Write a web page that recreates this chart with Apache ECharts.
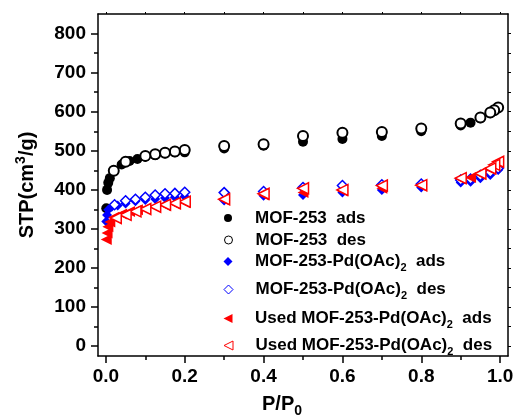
<!DOCTYPE html>
<html>
<head>
<meta charset="utf-8">
<script src="https://cdn.jsdelivr.net/npm/echarts@6/dist/echarts.min.js"></script>
<style>
html, body { margin: 0; padding: 0; background: #fff; }
#chart { width: 517px; height: 415px; }
</style>
</head>
<body>
<div id="chart"></div>
<script>
// P/P0 , STP values
var mofAds = [[0.001,353],[0.003,400],[0.006,418],[0.01,430],[0.02,448],[0.04,465],[0.06,474],[0.08,479],[0.1,485],[0.125,489],[0.15,493],[0.175,496],[0.2,496],[0.3,506],[0.4,513],[0.5,523],[0.6,530],[0.7,538],[0.8,550],[0.9,565],[0.925,572],[0.95,583],[0.975,596],[0.99,608]];
var mofDes = [[0.995,611],[0.985,604],[0.975,598],[0.95,585],[0.9,570],[0.8,557],[0.7,548],[0.6,546],[0.5,538],[0.4,517],[0.3,512],[0.2,502],[0.175,498],[0.15,495],[0.125,491],[0.1,487],[0.05,472],[0.02,449]];
var pdAds = [[0.001,319],[0.003,336],[0.006,349],[0.015,357],[0.03,360],[0.05,365],[0.075,371],[0.1,374],[0.125,377],[0.15,379],[0.175,381],[0.2,383],[0.3,373],[0.4,385],[0.5,387],[0.6,393],[0.7,400],[0.8,406],[0.9,419],[0.925,421],[0.95,430],[0.975,438],[0.995,451]];
var pdDes = [[0.995,455],[0.975,445],[0.95,437],[0.925,428],[0.9,425],[0.8,415],[0.7,413],[0.6,411],[0.5,406],[0.4,396],[0.3,393],[0.2,394],[0.175,391],[0.15,390],[0.125,387],[0.1,381],[0.075,376],[0.05,372],[0.022,362]];
var usedAds = [[0.001,273],[0.003,290],[0.005,306],[0.01,318],[0.02,330],[0.04,338],[0.06,345],[0.08,349],[0.1,352],[0.125,356],[0.15,360],[0.175,364],[0.2,367],[0.3,374],[0.4,387],[0.5,393],[0.6,397],[0.7,404],[0.8,410],[0.9,428],[0.925,432],[0.95,440],[0.975,452],[0.995,470]];
var usedDes = [[0.995,472],[0.985,464],[0.975,455],[0.95,442],[0.9,430],[0.8,412],[0.7,411],[0.6,400],[0.5,404],[0.4,390],[0.3,376],[0.2,370],[0.175,366],[0.15,362],[0.125,357],[0.1,351],[0.075,345],[0.05,336],[0.025,328]];

var seriesNames = ['MOF-253  ads', 'MOF-253  des', 'MOF-253-Pd(OAc)2  ads', 'MOF-253-Pd(OAc)2  des', 'Used MOF-253-Pd(OAc)2  ads', 'Used MOF-253-Pd(OAc)2  des'];
var xMajor = [0, 0.2, 0.4, 0.6, 0.8, 1.0];
var xMinor = [0.1, 0.3, 0.5, 0.7, 0.9];
var xAll = [0, 0.1, 0.2, 0.3, 0.4, 0.5, 0.6, 0.7, 0.8, 0.9, 1.0];
var yMajor = [0, 100, 200, 300, 400, 500, 600, 700, 800];
var yMinor = [50, 150, 250, 350, 450, 550, 650, 750];
var yAll = [0, 50, 100, 150, 200, 250, 300, 350, 400, 450, 500, 550, 600, 650, 700, 750, 800];

var FONT = "'Liberation Sans', Arial, Helvetica, sans-serif";
var LEFT_TRI = 'path://M0,5L10,0L10,10Z';

var symbols = [
    {symbol: 'circle', size: 10, legendSize: 8, style: {color: '#000', opacity: 1}, legendStyle: {color: '#000'}},
    {symbol: 'circle', size: 10, legendSize: 8, style: {color: '#fff', borderColor: '#000', borderWidth: 2, opacity: 1}, legendStyle: {color: '#fff', borderColor: '#000', borderWidth: 1}},
    {symbol: 'diamond', size: 10, legendSize: 9, style: {color: '#0000ff', opacity: 1}, legendStyle: {color: '#0000ff'}},
    {symbol: 'diamond', size: 10, legendSize: 9, style: {color: '#fff', borderColor: '#0000ff', borderWidth: 1.5, opacity: 1}, legendStyle: {color: '#fff', borderColor: '#0000ff', borderWidth: 1}},
    {symbol: LEFT_TRI, size: 11, legendSize: 9, style: {color: '#ff0000', opacity: 1}, legendStyle: {color: '#ff0000'}},
    {symbol: LEFT_TRI, size: 11, legendSize: 9, style: {color: '#fff', borderColor: '#ff0000', borderWidth: 1.5, opacity: 1}, legendStyle: {color: '#fff', borderColor: '#ff0000', borderWidth: 1}}
];
var seriesData = [mofAds, mofDes, pdAds, pdDes, usedAds, usedDes];
var legendY = [217, 239, 260, 288, 317, 344];

var series = [];
var legends = [];
for (var i = 0; i < seriesNames.length; i++) {
    series.push({
        name: seriesNames[i],
        type: 'scatter',
        xAxisIndex: 0,
        yAxisIndex: 0,
        symbol: symbols[i].symbol,
        symbolSize: symbols[i].size,
        itemStyle: symbols[i].style,
        emphasis: {disabled: true},
        data: seriesData[i],
        animation: false
    });
    var hasSub = seriesNames[i].indexOf('(OAc)2') >= 0;
    var ls = symbols[i].legendSize;
    legends.push({
        left: 228 - ls / 2,
        top: legendY[i] - (hasSub ? 7 : 7.5),
        padding: 0,
        itemWidth: ls,
        itemHeight: ls,
        selectedMode: false,
        data: [{name: seriesNames[i], icon: symbols[i].symbol, itemStyle: symbols[i].legendStyle}],
        formatter: function (name) {
            return name.replace('(OAc)2', '(OAc){sub|2}');
        },
        textStyle: {
            fontFamily: FONT,
            fontSize: 17,
            fontWeight: 'bold',
            color: '#000',
            padding: [0, 0, 0, 22 - ls / 2],
            rich: {
                sub: {fontFamily: FONT, fontSize: 11, fontWeight: 'bold', color: '#000', padding: [13, 0, 0, 0]}
            }
        }
    });
}

var axisLine = {show: true, onZero: false, lineStyle: {color: '#000', width: 1.5}};
var noLine = {show: false, onZero: false};

var option = {
    backgroundColor: '#fff',
    animation: false,
    grid: {left: 98, right: 9, top: 14, bottom: 59, containLabel: false, outerBoundsMode: 'none'},
    legend: legends,
    xAxis: [
        {
            type: 'value', position: 'bottom', min: -0.02, max: 1.02,
            axisLine: axisLine,
            axisTick: {show: true, inside: false, length: 7, customValues: xMajor, lineStyle: {color: '#000', width: 1.5}},
            axisLabel: {show: true, customValues: xMajor, margin: 11, fontFamily: FONT, fontSize: 19, fontWeight: 'bold', color: '#000',
                formatter: function (v) { return v.toFixed(1); }},
            splitLine: {show: false},
            name: 'P/P{sub|0}',
            nameLocation: 'middle',
            nameGap: 34,
            nameTextStyle: {fontFamily: FONT, fontSize: 20, fontWeight: 'bold', color: '#000', padding: [0, 42, 0, 0],
                rich: {sub: {fontFamily: FONT, fontSize: 14, fontWeight: 'bold', color: '#000', padding: [14, 0, 0, 0]}}}
        },
        {
            type: 'value', position: 'bottom', min: -0.02, max: 1.02,
            axisLine: noLine,
            axisTick: {show: true, inside: false, length: 4, customValues: xMinor, lineStyle: {color: '#000', width: 1.5}},
            axisLabel: {show: false},
            splitLine: {show: false}
        },
        {
            type: 'value', position: 'top', min: -0.02, max: 1.02,
            axisLine: axisLine,
            axisTick: {show: true, inside: false, length: 2, customValues: xAll, lineStyle: {color: '#000', width: 1}},
            axisLabel: {show: false},
            splitLine: {show: false}
        }
    ],
    yAxis: [
        {
            type: 'value', position: 'left', min: -25, max: 850,
            axisLine: axisLine,
            axisTick: {show: true, inside: false, length: 7, customValues: yMajor, lineStyle: {color: '#000', width: 1.5}},
            axisLabel: {show: true, customValues: yMajor, margin: 12, fontFamily: FONT, fontSize: 19, fontWeight: 'bold', color: '#000'},
            splitLine: {show: false},
            name: 'STP(cm{sup|3}/g)',
            nameLocation: 'middle',
            nameRotate: 90,
            nameGap: 58,
            nameTextStyle: {fontFamily: FONT, fontSize: 20, fontWeight: 'bold', color: '#000',
                rich: {sup: {fontFamily: FONT, fontSize: 14, fontWeight: 'bold', color: '#000', padding: [0, 0, 12, 0]}}}
        },
        {
            type: 'value', position: 'left', min: -25, max: 850,
            axisLine: noLine,
            axisTick: {show: true, inside: false, length: 4, customValues: yMinor, lineStyle: {color: '#000', width: 1.5}},
            axisLabel: {show: false},
            splitLine: {show: false}
        },
        {
            type: 'value', position: 'right', min: -25, max: 850,
            axisLine: axisLine,
            axisTick: {show: true, inside: false, length: 3, customValues: yAll, lineStyle: {color: '#000', width: 1}},
            axisLabel: {show: false},
            splitLine: {show: false}
        }
    ],
    series: series
};

var myChart = echarts.init(document.getElementById('chart'), null, {renderer: 'canvas'});
myChart.setOption(option);
</script>
</body>
</html>
